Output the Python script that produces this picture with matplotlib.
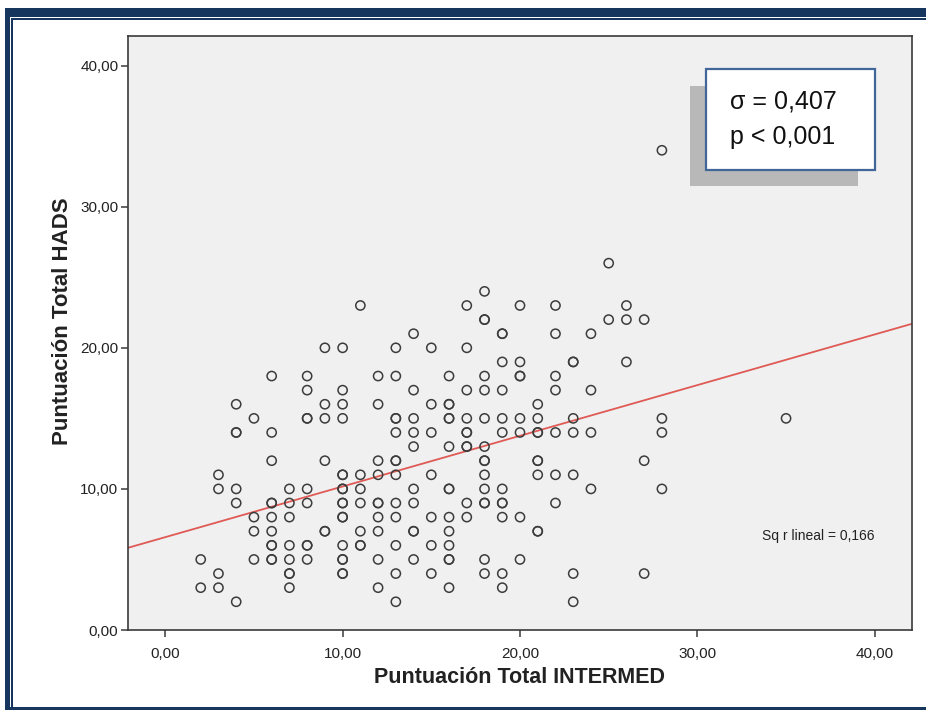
import numpy as np
import matplotlib
matplotlib.use("Agg")
import matplotlib.pyplot as plt
from matplotlib.patches import Rectangle

# INTERMED score levels and the HADS scores observed at each level
intermed_levels = [2, 3, 4, 5, 6, 7, 8, 9, 10, 11, 12, 13, 14, 15, 16, 17, 18,
                   19, 20, 21, 22, 23, 24, 25, 26, 27, 28, 35]
hads_at_level = [
    [5, 3],
    [11, 10, 4, 3],
    [16, 14, 14, 10, 9, 2],
    [15, 8, 7, 5],
    [18, 14, 12, 9, 9, 8, 7, 6, 6, 5, 5],
    [10, 9, 8, 6, 5, 4, 4, 3],
    [18, 17, 15, 15, 10, 9, 6, 6, 5],
    [20, 16, 15, 12, 7, 7],
    [20, 17, 16, 15, 11, 11, 10, 10, 9, 9, 8, 8, 6, 5, 5, 4, 4],
    [23, 11, 10, 9, 7, 6, 6],
    [18, 16, 12, 11, 9, 9, 8, 7, 5, 3],
    [20, 18, 15, 15, 14, 12, 12, 11, 9, 8, 6, 4, 2],
    [21, 17, 15, 14, 13, 10, 9, 7, 7, 5],
    [20, 16, 14, 11, 8, 6, 4],
    [18, 16, 16, 15, 15, 13, 10, 10, 8, 7, 6, 5, 5, 3],
    [23, 20, 17, 15, 14, 14, 13, 13, 9, 8],
    [24, 22, 22, 18, 17, 15, 13, 12, 12, 11, 10, 9, 9, 5, 4],
    [21, 21, 19, 17, 15, 14, 10, 9, 9, 8, 4, 3],
    [23, 19, 18, 18, 15, 14, 8, 5],
    [16, 15, 14, 14, 12, 12, 11, 7, 7],
    [23, 21, 18, 17, 14, 11, 9],
    [19, 19, 15, 14, 11, 4, 2],
    [21, 17, 14, 10],
    [26, 22],
    [23, 22, 19],
    [22, 12, 4],
    [34, 15, 14, 10],
    [15],
]

x_ticks = [0, 10, 20, 30, 40]
y_ticks = [0, 10, 20, 30, 40]
stats_lines = ["σ = 0,407", "p < 0,001"]
r2_label = "Sq r lineal = 0,166"

intermed = np.array([lv for lv, ys in zip(intermed_levels, hads_at_level) for _ in ys], float)
hads = np.array([y for ys in hads_at_level for y in ys], float)

W, H = 926, 710
fig = plt.figure(figsize=(W / 100, H / 100), dpi=100)
fig.patch.set_facecolor("white")

FONT = ["Liberation Sans", "DejaVu Sans"]


def px_rect(x0, y0, x1, y1, **kw):
    """Rectangle given in figure pixels measured from the top-left corner."""
    r = Rectangle((x0 / W, 1 - y1 / H), (x1 - x0) / W, (y1 - y0) / H,
                  transform=fig.transFigure, **kw)
    fig.add_artist(r)
    return r


# navy page frame
navy = "#17365d"
px_rect(5, 8, W, 16.5, facecolor=navy, edgecolor="none", zorder=0)
px_rect(5, 8, 10, H, facecolor=navy, edgecolor="none", zorder=0)
px_rect(11, 18, W, 19.5, facecolor=navy, edgecolor="none", zorder=0)
px_rect(11, 18, 12.5, 707, facecolor=navy, edgecolor="none", zorder=0)
px_rect(5, 707, W, H, facecolor=navy, edgecolor="none", zorder=0)

ax_l, ax_r, ax_t, ax_b = 128, 912, 36, 630
ax = fig.add_axes([ax_l / W, 1 - ax_b / H, (ax_r - ax_l) / W, (ax_b - ax_t) / H])
ax.set_facecolor("#f0f0f0")
ax.set_xlim(-2.1, 42.1)
ax.set_ylim(0, 42.1)

for s in ax.spines.values():
    s.set_color("#3a3a3a")
    s.set_linewidth(1.2)

ax.scatter(intermed, hads, s=44, facecolors="none", edgecolors="#3c3c3c",
           linewidths=1.1, zorder=3)

# least-squares fit line across the full axis width
slope, intercept = np.polyfit(intermed, hads, 1)
xl = np.array(ax.get_xlim())
ax.plot(xl, intercept + slope * xl, color="#e05a55", lw=1.3, zorder=2)

def fmt(v):
    return f"{v:.2f}".replace(".", ",")

ax.set_xticks(x_ticks)
ax.set_xticklabels([fmt(v) for v in x_ticks])
ax.set_yticks(y_ticks)
ax.set_yticklabels([fmt(v) for v in y_ticks])
ax.tick_params(axis="both", direction="out", length=5, width=1.1, color="#3a3a3a",
               labelsize=11, labelcolor="#222222")
ax.tick_params(axis="x", pad=7)
ax.tick_params(axis="y", pad=2)
for lab in ax.get_xticklabels() + ax.get_yticklabels():
    lab.set_family(FONT)

ax.set_xlabel("Puntuación Total INTERMED", fontsize=15.5, fontweight="bold",
              family=FONT, color="#222222")
ax.set_ylabel("Puntuación Total HADS", fontsize=16, fontweight="bold",
              family=FONT, color="#222222")
ax.xaxis.set_label_coords(0.5, -0.062)
ax.yaxis.set_label_coords(-0.07, 0.52)

ax.text(875, H - 536, r2_label, transform=None, fontsize=10, family=FONT,
        ha="right", va="center", color="#222222")

# statistics callout with drop shadow
px_rect(690, 86, 858, 186, facecolor="#b8b8b8", edgecolor="none", zorder=5)
px_rect(706, 69, 875, 170, facecolor="white", edgecolor="#41679a", lw=1.6, zorder=6)
for i, line in enumerate(stats_lines):
    fig.text(730 / W, 1 - (101 + 36 * i) / H, line, fontsize=18, family=FONT,
             ha="left", va="center", color="#111111", zorder=7)

fig.savefig("out.png", dpi=100)
